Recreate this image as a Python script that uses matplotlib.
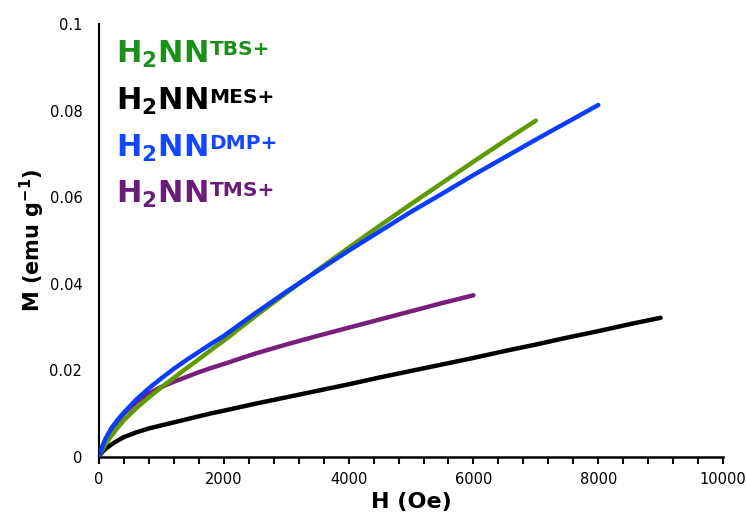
import matplotlib
matplotlib.use("Agg")
import matplotlib.pyplot as plt
from matplotlib.ticker import MultipleLocator

plt.rcParams['font.family'] = ['DejaVu Sans']
plt.rcParams['mathtext.fontset'] = 'dejavusans'

# Data
H_tbs = [0, 50, 100, 200, 300, 400, 600, 800, 1000, 1200, 1400, 1600, 1800, 2000,
         2500, 3000, 3500, 4000, 4500, 5000, 5500, 6000, 6500, 7000]
M_tbs = [0, 0.0015, 0.0028, 0.0048, 0.0067, 0.0084, 0.0112, 0.0137, 0.0160, 0.0182,
         0.0204, 0.0225, 0.0247, 0.0268, 0.0324, 0.0378, 0.0431, 0.0483, 0.0534,
         0.0584, 0.0633, 0.0682, 0.0730, 0.0777]

H_mes = [0, 50, 100, 200, 300, 400, 600, 800, 1000, 1200, 1400, 1600, 1800, 2000,
         2500, 3000, 3500, 4000, 4500, 5000, 5500, 6000, 6500, 7000, 7500, 8000, 8500, 9000]
M_mes = [0, 0.0010, 0.0017, 0.0028, 0.0037, 0.0045, 0.0056, 0.0065, 0.0072, 0.0079,
         0.0086, 0.0093, 0.0100, 0.0106, 0.0122, 0.0137, 0.0152, 0.0167, 0.0183,
         0.0198, 0.0213, 0.0228, 0.0244, 0.0259, 0.0275, 0.0290, 0.0306, 0.0321]

H_dmp = [0, 50, 100, 200, 300, 400, 600, 800, 1000, 1200, 1400, 1600, 1800, 2000,
         2500, 3000, 3500, 4000, 4500, 5000, 5500, 6000, 6500, 7000, 7500, 8000]
M_dmp = [0, 0.0022, 0.0040, 0.0066, 0.0085, 0.0102, 0.0132, 0.0158, 0.0181, 0.0203,
         0.0223, 0.0242, 0.0261, 0.0279, 0.0331, 0.0381, 0.0429, 0.0476, 0.0521,
         0.0566, 0.0608, 0.0651, 0.0692, 0.0733, 0.0773, 0.0813]

H_tms = [0, 50, 100, 200, 300, 400, 600, 800, 1000, 1200, 1400, 1600, 1800, 2000,
         2500, 3000, 3500, 4000, 4500, 5000, 5500, 6000]
M_tms = [0, 0.0020, 0.0036, 0.0062, 0.0082, 0.0099, 0.0126, 0.0146, 0.0161, 0.0173,
         0.0184, 0.0195, 0.0205, 0.0214, 0.0238, 0.0259, 0.0279, 0.0298, 0.0317,
         0.0336, 0.0355, 0.0373]

names = ['TBS+', 'MES+', 'DMP+', 'TMS+']
line_colors = ['#5f9b00', '#000000', '#0a3cff', '#7a1e7c']
text_colors = ['#1a901a', '#000000', '#1446ff', '#6a1c7a']

fig = plt.figure(figsize=(7.47, 5.14), dpi=100)
ax = fig.add_axes([0.1325, 0.1118, 0.8355, 0.8412])

series = [(H_tbs, M_tbs), (H_mes, M_mes), (H_dmp, M_dmp), (H_tms, M_tms)]
order = [1, 3, 0, 2]
for i in order:
    h, m = series[i]
    ax.plot(h, m, color=line_colors[i], lw=3.2, solid_capstyle='round',
            solid_joinstyle='round', zorder=3)

ax.set_xlim(0, 10000)
ax.set_ylim(0, 0.1)
ax.xaxis.set_major_locator(MultipleLocator(2000))
ax.xaxis.set_minor_locator(MultipleLocator(400))
ax.set_yticks([0, 0.02, 0.04, 0.06, 0.08, 0.1])
ax.set_yticklabels(['0', '0.02', '0.04', '0.06', '0.08', '0.1'])
ax.tick_params(axis='x', which='both', direction='out', length=5, width=1.5,
               labelsize=10.5, pad=6)
ax.tick_params(axis='y', which='both', length=0, labelsize=10.5, pad=12)

for s in ['top', 'right']:
    ax.spines[s].set_visible(False)
ax.spines['left'].set_linewidth(1.5)
ax.spines['bottom'].set_linewidth(1.8)

ax.set_xlabel('H (Oe)', fontsize=16, fontweight='bold', labelpad=4)
ax.set_ylabel(r'M (emu g$^{\mathbf{-1}}$)', fontsize=15, fontweight='bold', labelpad=2)

baselines = [0.0910, 0.0801, 0.0693, 0.0586]
for nm, c, y in zip(names, text_colors, baselines):
    t = ax.text(270, y, r'$\mathbf{H_2NN}$', color=c, fontsize=22,
                va='baseline', ha='left')
    ax.annotate(nm, xy=(1, 1), xycoords=t, xytext=(1.5, -1.0),
                textcoords='offset points', color=c, fontsize=14.5,
                fontweight='bold', va='top', ha='left')

fig.savefig('out.png', dpi=100)
